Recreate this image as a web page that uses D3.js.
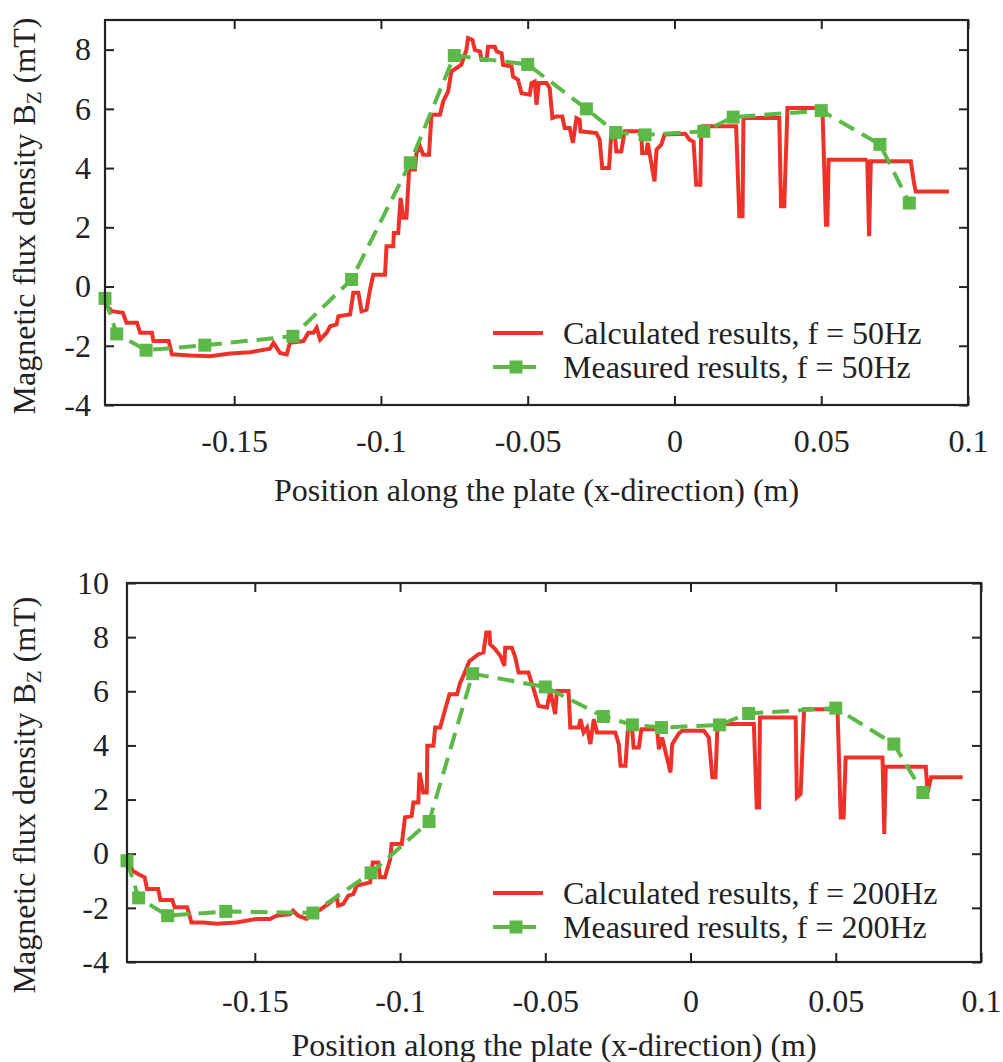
<!DOCTYPE html>
<html>
<head>
<meta charset="utf-8">
<script src="https://cdn.jsdelivr.net/npm/d3@7"></script>
<style>
  html, body { margin: 0; padding: 0; background: #ffffff; }
  svg text { font-family: "Liberation Serif", "Times New Roman", serif; fill: #222; }
</style>
</head>
<body>
<svg id="chart" width="1003" height="1062"></svg>
<script>
// ---------- data ----------
const xTicks = [-0.15, -0.1, -0.05, 0, 0.05, 0.1];
const yTicksTop = [-4, -2, 0, 2, 4, 6, 8];
const yTicksBottom = [-4, -2, 0, 2, 4, 6, 8, 10];
const xDomain = [-0.194, 0.1];
const yDomainTop = [-4, 9];
const yDomainBottom = [-4, 10];

const xLabel = "Position along the plate (x-direction) (m)";
const legendTop = ["Calculated results, f = 50Hz", "Measured results, f = 50Hz"];
const legendBottom = ["Calculated results, f = 200Hz", "Measured results, f = 200Hz"];

// Calculated, 50 Hz
const calc50X = [-0.194,-0.1916,-0.1879,-0.1867,-0.1831,-0.1820,-0.1780,-0.1775,-0.1723,-0.1712,
  -0.1650,-0.1582,-0.1514,-0.1446,-0.1378,-0.1366,-0.1344,-0.1321,-0.1310,-0.1264,
  -0.1247,-0.1230,-0.1219,-0.1207,-0.1185,-0.1173,-0.1151,-0.1145,-0.1105,-0.1094,
  -0.1077,-0.1066,-0.1049,-0.1037,-0.1026,-0.0986,-0.0981,-0.0958,-0.0956,-0.0941,
  -0.0933,-0.0924,-0.0913,-0.0904,-0.0884,-0.0879,-0.0867,-0.0856,-0.0836,-0.0828,
  -0.0799,-0.0788,-0.0771,-0.0760,-0.0726,-0.0709,-0.0703,-0.0688,-0.0680,-0.0663,
  -0.0657,-0.0640,-0.0635,-0.0612,-0.0606,-0.0589,-0.0584,-0.0555,-0.0550,-0.0533,
  -0.0521,-0.0493,-0.0487,-0.0476,-0.0470,-0.0462,-0.0436,-0.0425,-0.0416,-0.0402,
  -0.0382,-0.0374,-0.0357,-0.0346,-0.0334,-0.0323,-0.0320,-0.0266,-0.0255,-0.0246,
  -0.0223,-0.0215,-0.0204,-0.0198,-0.0181,-0.0170,-0.0113,-0.0110,-0.0096,-0.0091,
  -0.0068,-0.0061,-0.0045,-0.0034,0.0037,0.0051,0.0065,0.0074,0.0088,0.0091,
  0.0096,0.0210,0.0221,0.0232,0.0235,0.0357,0.0363,0.0374,0.0385,0.0504,
  0.0516,0.0521,0.0525,0.0652,0.0657,0.0663,0.0669,0.0805,0.0816,0.0822,0.0935];
const calc50Y = [-0.6,-0.83,-0.89,-1.22,-1.22,-1.56,-1.56,-1.84,-1.84,-2.29,
  -2.33,-2.35,-2.26,-2.22,-2.10,-1.90,-2.24,-2.29,-1.90,-1.84,
  -1.56,-1.56,-1.39,-1.79,-1.56,-1.34,-1.28,-1.00,-0.94,-0.21,
  -0.21,-0.83,-0.78,-0.10,0.40,0.40,1.36,1.36,1.81,1.81,
  2.99,2.32,2.32,3.95,3.95,4.51,4.73,4.45,4.45,5.80,
  5.80,6.25,6.59,7.26,7.49,7.99,8.39,8.33,7.99,7.94,
  7.66,7.66,8.10,8.10,7.94,7.88,7.49,7.43,7.09,6.98,
  6.53,6.48,6.87,6.92,6.14,6.87,6.87,6.70,5.69,5.74,
  5.74,5.35,5.35,4.85,5.69,5.63,5.24,5.18,4.96,4.00,
  4.00,5.18,5.24,4.56,4.56,5.24,5.24,4.51,4.51,4.85,
  3.55,4.62,4.79,5.13,5.16,4.96,4.89,3.44,3.44,5.24,
  5.41,5.41,2.37,2.37,5.69,5.69,2.71,2.71,6.03,6.03,
  2.09,2.09,4.28,4.28,4.23,1.70,4.23,4.23,3.50,3.21,3.21];

// Measured, 50 Hz
const meas50X = [-0.194,-0.19,-0.18,-0.16,-0.13,-0.11,-0.09,-0.075,-0.05,-0.03,-0.02,-0.01,0.01,0.02,0.05,0.07,0.08];
const meas50Y = [-0.4,-1.6,-2.15,-1.98,-1.68,0.24,4.18,7.8,7.5,6.0,5.2,5.12,5.24,5.72,5.94,4.8,2.82];

// Calculated, 200 Hz
const calc200X = [-0.1941,-0.1933,-0.1920,-0.1902,-0.1879,-0.1871,-0.1833,-0.1825,-0.1784,-0.1776,
  -0.1733,-0.1718,-0.1678,-0.1632,-0.1563,-0.1494,-0.1448,-0.1425,-0.1379,-0.1368,
  -0.1351,-0.1322,-0.1304,-0.1276,-0.1264,-0.1247,-0.1218,-0.1213,-0.1196,-0.1178,
  -0.1161,-0.1149,-0.1103,-0.1094,-0.1075,-0.1069,-0.1052,-0.1034,-0.1029,-0.0994,
  -0.0983,-0.0960,-0.0954,-0.0937,-0.0933,-0.0920,-0.0908,-0.0906,-0.0885,-0.0879,
  -0.0862,-0.0830,-0.0804,-0.0793,-0.0782,-0.0761,-0.0753,-0.0730,-0.0713,-0.0703,
  -0.0692,-0.0690,-0.0672,-0.0655,-0.0641,-0.0638,-0.0615,-0.0603,-0.0592,-0.0558,
  -0.0540,-0.0523,-0.0494,-0.0483,-0.0466,-0.0460,-0.0420,-0.0414,-0.0385,-0.0379,
  -0.0368,-0.0356,-0.0345,-0.0333,-0.0322,-0.0259,-0.0247,-0.0241,-0.0224,-0.0216,
  -0.0201,-0.0196,-0.0178,-0.0169,-0.0115,-0.0109,-0.0098,-0.0069,-0.0063,-0.0041,
  -0.0029,0.0046,0.0063,0.0075,0.0086,0.0092,0.0098,0.0218,0.0228,0.0236,
  0.0239,0.0362,0.0366,0.0379,0.0391,0.0506,0.0517,0.0527,0.0534,0.0661,
  0.0667,0.0672,0.0810,0.0816,0.0828,0.0937];
const calc200Y = [-0.26,-0.38,-0.63,-0.75,-0.87,-1.30,-1.30,-1.71,-1.71,-1.98,
  -1.98,-2.54,-2.54,-2.59,-2.54,-2.41,-2.41,-2.29,-2.23,-2.10,
  -2.29,-2.41,-2.17,-2.08,-1.98,-1.86,-1.59,-1.92,-1.86,-1.55,
  -1.49,-1.18,-1.06,-0.32,-0.32,-0.87,-0.87,-0.20,0.36,0.36,
  1.34,1.40,1.89,1.89,3.00,2.26,2.26,3.99,3.99,4.66,
  4.66,5.89,5.89,6.32,6.57,7.12,7.18,7.37,7.43,8.17,
  8.17,7.74,7.55,7.31,6.94,7.61,7.61,7.24,6.69,6.69,
  6.08,5.46,5.40,6.01,5.16,6.01,6.01,4.66,4.66,4.97,
  4.48,4.66,4.05,4.97,4.48,4.48,4.05,3.25,3.25,4.54,
  4.60,3.92,3.92,4.60,4.60,3.86,4.29,3.00,4.05,4.43,
  4.54,4.54,4.29,2.82,2.82,4.54,4.79,4.79,1.71,1.71,
  5.03,5.03,2.08,2.20,5.34,5.34,1.34,1.34,3.55,3.55,
  0.73,3.21,3.21,2.26,2.82,2.82];

// Measured, 200 Hz
const meas200X = [-0.194,-0.19,-0.18,-0.16,-0.13,-0.11,-0.09,-0.075,-0.05,-0.03,-0.02,-0.01,0.01,0.02,0.05,0.07,0.08];
const meas200Y = [-0.26,-1.63,-2.29,-2.13,-2.19,-0.71,1.19,6.65,6.16,5.07,4.76,4.66,4.76,5.18,5.38,4.05,2.26];

// ---------- drawing ----------
const RED = "#ee3229";
const GREEN = "#5cb947";
const INK = "#222";
const svg = d3.select("#chart");

const fmt = d => d === 0 ? "0" : String(d);

function panel(cfg) {
  const x = d3.scaleLinear().domain(xDomain).range([cfg.left, cfg.right]);
  const y = d3.scaleLinear().domain(cfg.yDomain).range([cfg.bottom, cfg.top]);
  const g = svg.append("g");

  // axes (inward ticks)
  const ax = [
    g.append("g").attr("transform", `translate(0,${cfg.bottom})`)
      .call(d3.axisBottom(x).tickValues(xTicks).tickFormat(fmt).tickSize(-9).tickPadding(cfg.xPad)),
    g.append("g").attr("transform", `translate(0,${cfg.top})`)
      .call(d3.axisTop(x).tickValues(xTicks).tickFormat("").tickSize(-9)),
    g.append("g").attr("transform", `translate(${cfg.left},0)`)
      .call(d3.axisLeft(y).tickValues(cfg.yTicks).tickFormat(fmt).tickSize(-9).tickPadding(cfg.yPad)),
    g.append("g").attr("transform", `translate(${cfg.right},0)`)
      .call(d3.axisRight(y).tickValues(cfg.yTicks).tickFormat("").tickSize(-9))
  ];
  ax.forEach(a => {
    a.select(".domain").remove();
    a.selectAll(".tick line").attr("stroke", INK).attr("stroke-width", 2);
    a.selectAll(".tick text").attr("font-size", 32).attr("font-family", "Liberation Serif, serif").attr("fill", INK);
  });

  // calculated line
  const calc = d3.zip(cfg.calcX, cfg.calcY);
  const meas = d3.zip(cfg.measX, cfg.measY);
  const line = d3.line().x(d => x(d[0])).y(d => y(d[1]));
  g.append("path").datum(calc).attr("d", line)
    .attr("fill", "none").attr("stroke", RED).attr("stroke-width", 4).attr("stroke-linejoin", "miter");

  // measured dashed line with squares
  g.append("path").datum(meas).attr("d", line)
    .attr("fill", "none").attr("stroke", GREEN).attr("stroke-width", 4).attr("stroke-dasharray", "17,9");
  const sq = 13;
  g.selectAll("rect.m").data(meas).enter().append("rect").attr("class", "m")
    .attr("x", d => x(d[0]) - sq / 2).attr("y", d => y(d[1]) - sq / 2)
    .attr("width", sq).attr("height", sq).attr("fill", GREEN);

  // frame
  g.append("rect").attr("x", cfg.left).attr("y", cfg.top)
    .attr("width", cfg.right - cfg.left).attr("height", cfg.bottom - cfg.top)
    .attr("fill", "none").attr("stroke", INK).attr("stroke-width", 2.2);

  // x title
  g.append("text").attr("x", (cfg.left + cfg.right) / 2).attr("y", cfg.xTitleY)
    .attr("text-anchor", "middle").attr("font-size", 32).text(xLabel);

  // y title
  const yt = g.append("text").attr("transform", `translate(${cfg.yTitleX},${cfg.yTitleCY}) rotate(-90)`)
    .attr("text-anchor", "middle").attr("font-size", 32);
  yt.append("tspan").text("Magnetic flux density B");
  yt.append("tspan").attr("font-size", 21).attr("dy", 6).text("Z");
  yt.append("tspan").attr("dy", -6).text(" (mT)");

  // legend
  const lg = g.append("g");
  lg.append("line").attr("x1", cfg.legX).attr("x2", cfg.legX + 50)
    .attr("y1", cfg.legY).attr("y2", cfg.legY).attr("stroke", RED).attr("stroke-width", 4);
  lg.append("line").attr("x1", cfg.legX).attr("x2", cfg.legX + 46)
    .attr("y1", cfg.legY + 34).attr("y2", cfg.legY + 34).attr("stroke", GREEN).attr("stroke-width", 4)
    .attr("stroke-dasharray", "17,9");
  lg.append("rect").attr("x", cfg.legX + 23 - sq / 2).attr("y", cfg.legY + 34 - sq / 2)
    .attr("width", sq).attr("height", sq).attr("fill", GREEN);
  cfg.legend.forEach((t, i) => {
    lg.append("text").attr("x", cfg.legX + 70).attr("y", cfg.legY + i * 34 + 11)
      .attr("font-size", 32).text(t);
  });
}

panel({
  left: 105, right: 968, top: 20, bottom: 405,
  yDomain: yDomainTop, yTicks: yTicksTop,
  calcX: calc50X, calcY: calc50Y, measX: meas50X, measY: meas50Y,
  xPad: 24, yPad: 14, xTitleY: 501, yTitleX: 35, yTitleCY: 216,
  legX: 493, legY: 333, legend: legendTop
});

panel({
  left: 127, right: 981, top: 583, bottom: 962,
  yDomain: yDomainBottom, yTicks: yTicksBottom,
  calcX: calc200X, calcY: calc200Y, measX: meas200X, measY: meas200Y,
  xPad: 27, yPad: 18, xTitleY: 1056, yTitleX: 35, yTitleCY: 795,
  legX: 493, legY: 893, legend: legendBottom
});
</script>
</body>
</html>
